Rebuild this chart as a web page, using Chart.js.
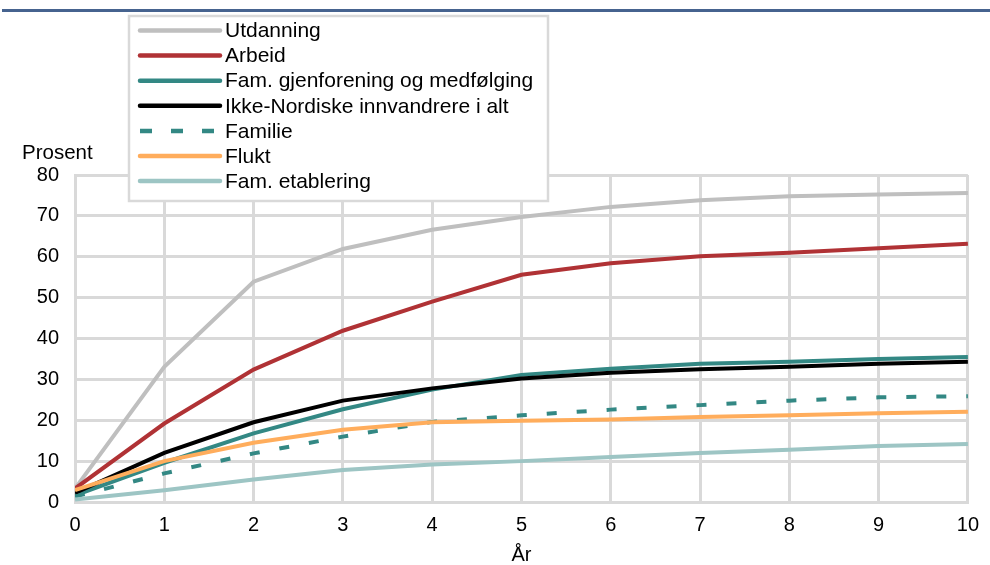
<!DOCTYPE html>
<html>
<head>
<meta charset="utf-8">
<script src="https://cdn.jsdelivr.net/npm/chart.js@4"></script>
<style>
  html, body { margin: 0; padding: 0; background: #fff; }
  #wrap { width: 990px; height: 565px; position: relative; }
  canvas { display: block; }
</style>
</head>
<body>
<div id="wrap"><canvas id="c" width="990" height="565"></canvas></div>
<script>
const years = [0, 1, 2, 3, 4, 5, 6, 7, 8, 9, 10];
const utdanning       = [3.3, 33.1, 53.9, 61.9, 66.6, 69.7, 72.2, 73.8, 74.8, 75.2, 75.6];
const arbeid          = [3.3, 19.2, 32.4, 41.9, 49.0, 55.6, 58.4, 60.1, 61.0, 62.1, 63.2];
const famGjenforening = [1.6, 9.6, 16.8, 22.7, 27.5, 31.1, 32.6, 33.8, 34.3, 35.0, 35.5];
const ikkeNordiske    = [2.2, 12.0, 19.5, 24.8, 27.8, 30.2, 31.6, 32.5, 33.1, 33.8, 34.3];
const familie         = [1.3, 7.0, 11.9, 16.0, 19.6, 21.2, 22.6, 23.7, 24.8, 25.6, 25.9];
const flukt           = [2.9, 10.0, 14.5, 17.7, 19.5, 19.9, 20.2, 20.8, 21.2, 21.7, 22.1];
const famEtablering   = [0.6, 2.9, 5.5, 7.8, 9.2, 10.0, 11.0, 12.0, 12.8, 13.7, 14.2];

const seriesNames = ['Utdanning', 'Arbeid', 'Fam. gjenforening og medfølging',
  'Ikke-Nordiske innvandrere i alt', 'Familie', 'Flukt', 'Fam. etablering'];
const xTickLabels = ['0','1','2','3','4','5','6','7','8','9','10'];
const yTickLabels = ['0','10','20','30','40','50','60','70','80'];
const yAxisLabel = 'Prosent';
const xAxisLabel = 'År';

const seriesValues = [utdanning, arbeid, famGjenforening, ikkeNordiske, familie, flukt, famEtablering];
const colors = ['#bfbfbf', '#b03235', '#338884', '#000000', '#338884', '#ffad5c', '#9dc5c4'];
const dashes = [[], [], [], [], [10, 20], [], []];

const FONT = '"Liberation Sans", Arial, sans-serif';
const n = seriesValues.length;
const datasets = seriesValues.map((vals, i) => ({
  label: seriesNames[i],
  data: years.map((x, k) => ({ x: x, y: vals[k] })),
  borderColor: colors[i],
  backgroundColor: colors[i],
  borderWidth: 4,
  borderDash: dashes[i],
  pointRadius: 0,
  tension: 0,
  fill: false,
  order: n - i
}));

const decor = {
  id: 'decor',
  afterDraw(chart) {
    const ctx = chart.ctx;
    ctx.save();
    // top blue rule
    ctx.fillStyle = '#46638f';
    ctx.fillRect(2, 9, 988, 3);
    // Prosent label
    ctx.fillStyle = '#000';
    ctx.font = '20.5px ' + FONT;
    ctx.textAlign = 'left';
    ctx.textBaseline = 'middle';
    ctx.fillText(yAxisLabel, 22, 153);
    // legend box
    const bx = 129, by = 16, bw = 419, bh = 185;
    ctx.fillStyle = '#fff';
    ctx.fillRect(bx, by, bw, bh);
    ctx.strokeStyle = '#d9d9d9';
    ctx.lineWidth = 2.5;
    ctx.strokeRect(bx, by, bw, bh);
    const ds = chart.data.datasets;
    ctx.font = '21px ' + FONT;
    for (let i = 0; i < ds.length; i++) {
      const y = 30.5 + i * 25.1;
      ctx.strokeStyle = ds[i].borderColor;
      ctx.lineWidth = 4.5;
      ctx.lineCap = ds[i].borderDash.length ? 'butt' : 'round';
      ctx.setLineDash(ds[i].borderDash.length ? [12, 19] : []);
      ctx.beginPath();
      if (ds[i].borderDash.length) {
        ctx.moveTo(140, y); ctx.lineTo(222, y);
      } else {
        ctx.moveTo(140, y); ctx.lineTo(220, y);
      }
      ctx.stroke();
      ctx.setLineDash([]);
      ctx.fillStyle = '#000';
      ctx.fillText(ds[i].label, 225, y + 1);
    }
    ctx.restore();
  }
};

new Chart(document.getElementById('c'), {
  type: 'line',
  data: { datasets: datasets },
  options: {
    responsive: false,
    animation: false,
    devicePixelRatio: 1,
    layout: { padding: { left: 0, top: 175, right: 22, bottom: 0 } },
    plugins: { legend: { display: false }, tooltip: { enabled: false }, title: { display: false } },
    scales: {
      x: {
        type: 'linear', min: 0, max: 10,
        afterFit(s) { s.height = 63; },
        ticks: {
          stepSize: 1, color: '#000', font: { family: FONT, size: 20 }, padding: 11,
          callback: (v) => xTickLabels[v]
        },
        grid: { color: '#d9d9d9', lineWidth: 3, drawTicks: false },
        border: { color: '#d9d9d9', width: 3 },
        title: { display: true, text: xAxisLabel, color: '#000', font: { family: FONT, size: 20 }, padding: { top: 0, bottom: -2 } }
      },
      y: {
        type: 'linear', min: 0, max: 80,
        afterFit(s) { s.width = 75; },
        ticks: {
          stepSize: 10, color: '#000', font: { family: FONT, size: 20 }, padding: 16,
          callback: (v) => yTickLabels[v / 10]
        },
        grid: { color: '#d9d9d9', lineWidth: 3, drawTicks: false },
        border: { color: '#d9d9d9', width: 3 }
      }
    }
  },
  plugins: [decor]
});
</script>
</body>
</html>
